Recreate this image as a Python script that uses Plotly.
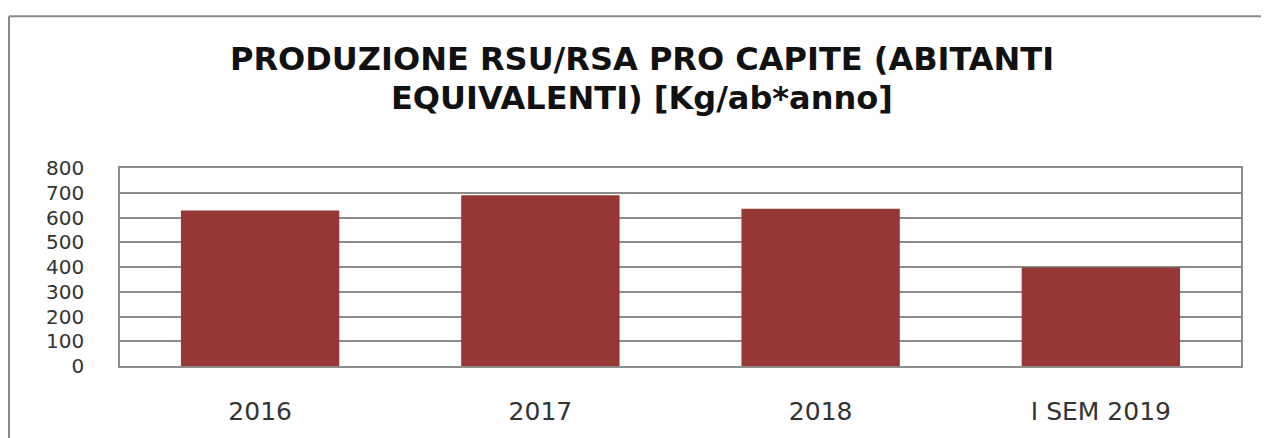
import plotly.graph_objects as go

categories = ["2016", "2017", "2018", "I SEM 2019"]
values = [628, 690, 635, 398]
y_ticks = [0, 100, 200, 300, 400, 500, 600, 700, 800]

title_lines = ["PRODUZIONE RSU/RSA PRO CAPITE (ABITANTI", "EQUIVALENTI) [Kg/ab*anno]"]

# screen geometry of the reference plot area (page has an 8px body offset)
OFF = 8
PL, PR, PT, PB = 120, 1241, 168, 373
PW, PH = PR - PL, PB - PT


def px_to_paper_x(px):
    return (px - PL) / PW


def px_to_paper_y(py):
    return (PB - py) / PH


fig = go.Figure(
    go.Bar(
        x=categories,
        y=values,
        marker=dict(color="#953735", line=dict(width=0)),
        hoverinfo="x+y",
    )
)

title_font = dict(family="DejaVu Sans", size=32, color="#111111", weight="bold")

border = dict(color="#8a8a8a", width=2)

fig.update_layout(
    width=1269 - OFF,
    height=438 - OFF,
    margin=dict(l=PL - OFF, r=1269 - PR, t=PT - OFF, b=438 - PB),
    paper_bgcolor="white",
    plot_bgcolor="white",
    bargap=0.435,
    showlegend=False,
    font=dict(family="DejaVu Sans", color="#333333"),
    annotations=[
        dict(
            text=title_lines[0], xref="paper", yref="paper",
            x=px_to_paper_x(642), y=px_to_paper_y(55),
            xanchor="center", yanchor="middle", showarrow=False, font=title_font,
        ),
        dict(
            text=title_lines[1], xref="paper", yref="paper",
            x=px_to_paper_x(642), y=px_to_paper_y(96),
            xanchor="center", yanchor="middle", showarrow=False, font=title_font,
        ),
    ],
    shapes=[
        dict(
            type="line", xref="paper", yref="paper",
            x0=px_to_paper_x(9), x1=1.5,
            y0=px_to_paper_y(11), y1=px_to_paper_y(11),
            line=border, layer="below",
        ),
        dict(
            type="line", xref="paper", yref="paper",
            x0=px_to_paper_x(9), x1=px_to_paper_x(9),
            y0=px_to_paper_y(11), y1=-1.5,
            line=border, layer="below",
        ),
    ],
)

fig.update_xaxes(
    showline=True,
    linecolor="#8c8c8c",
    linewidth=1.5,
    mirror=True,
    showgrid=False,
    ticks="",
    tickfont=dict(size=25, color="#333333"),
    ticklabelstandoff=22,
)

fig.update_yaxes(
    range=[0, 800],
    tickvals=y_ticks,
    showline=True,
    linecolor="#8c8c8c",
    linewidth=1.5,
    mirror=True,
    showgrid=True,
    gridcolor="#8c8c8c",
    gridwidth=1.5,
    ticks="",
    tickfont=dict(size=20, color="#333333"),
    ticklabelstandoff=30,
    zeroline=False,
)

fig.write_html("out.html")
